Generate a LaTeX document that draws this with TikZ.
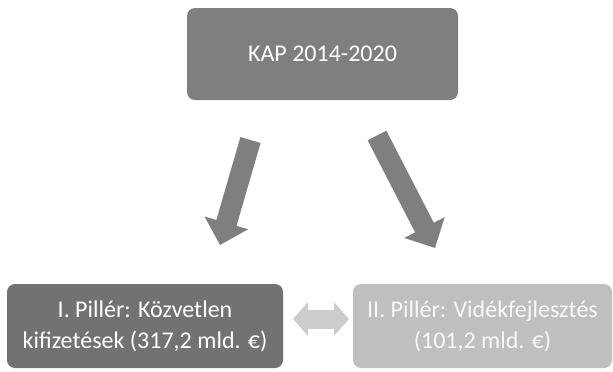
\documentclass[tikz,border=0pt]{standalone}
\usepackage{fontspec}
\setmainfont{Carlito}
\usetikzlibrary{arrows.meta}
\definecolor{topgray}{HTML}{7F7F7F}
\definecolor{leftgray}{HTML}{727272}
\definecolor{rightgray}{HTML}{BFBFBF}
\definecolor{dblgray}{HTML}{CCCCCC}
\definecolor{arrgray}{HTML}{7F7F7F}
\tikzset{
  box/.style={rounded corners=8pt, inner sep=0pt, text=white, align=center,
    font=\fontsize{24}{31}\selectfont},
  blockarrow/.style={draw=arrgray, line width=21pt, line cap=butt,
    -{Triangle[width=44pt,length=23pt]}, arrgray},
}
\begin{document}
\begin{tikzpicture}[x=1pt,y=-1pt]
\useasboundingbox (0,0) rectangle (613,372);
\node[box, fill=topgray, minimum width=271pt, minimum height=92pt] (top) at (322.5,54) {KAP 2014-2020};
\node[box, fill=leftgray, minimum width=276pt, minimum height=84pt] (left) at (145,326) {I. Pillér: Közvetlen\\kifizetések (317,2 mld. €)};
\node[box, fill=rightgray, minimum width=259pt, minimum height=84pt, text=white!95!gray] (right) at (482.5,326) {II. Pillér: Vidékfejlesztés\\(101,2 mld. €)};
\coordinate (la) at (250.5,140);
\coordinate (lb) at (220,245);
\coordinate (ra) at (377,135.5);
\coordinate (rb) at (435,248);
\draw[blockarrow] (la) -- (lb);
\draw[blockarrow] (ra) -- (rb);
\coordinate (dl) at (293,319);
\coordinate (dr) at (349,319);
\draw[draw=dblgray, line width=19pt, {Triangle[width=33pt,length=15pt]}-{Triangle[width=33pt,length=15pt]}, dblgray] (dl) -- (dr);
\end{tikzpicture}
\end{document}
